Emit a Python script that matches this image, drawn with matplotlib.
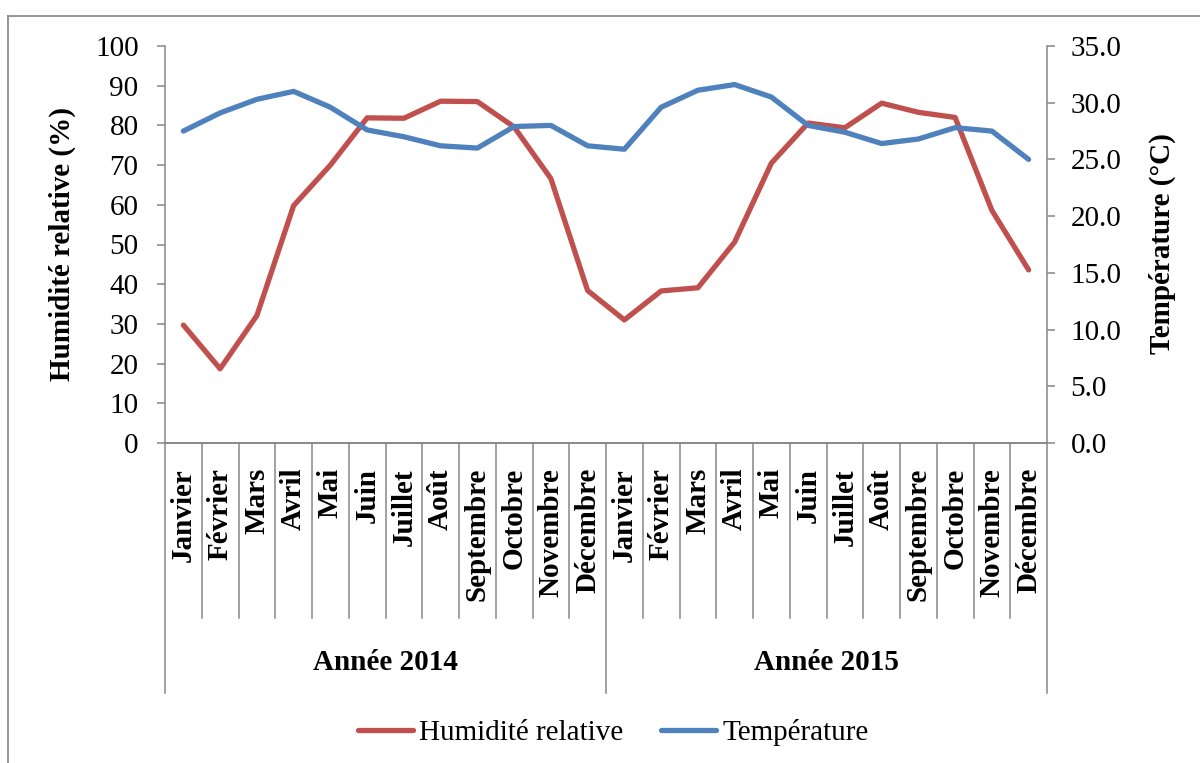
import numpy as np
import matplotlib
matplotlib.use("Agg")
import matplotlib.pyplot as plt
from matplotlib.lines import Line2D
import matplotlib.transforms as mtransforms

plt.rcParams['font.family'] = ['Liberation Serif', 'DejaVu Serif']

months = ["Janvier", "Février", "Mars", "Avril", "Mai", "Juin", "Juillet",
          "Août", "Septembre", "Octobre", "Novembre", "Décembre"]
years = ["Année 2014", "Année 2015"]
humidity = [29.7, 18.7, 32.1, 59.8, 70.0, 81.9, 81.8, 86.1, 86.0, 79.6, 66.6, 38.4,
            31.0, 38.3, 39.1, 50.6, 70.5, 80.6, 79.4, 85.6, 83.3, 82.0, 58.6, 43.6]
temperature = [27.5, 29.1, 30.3, 31.0, 29.6, 27.6, 27.0, 26.2, 26.0, 27.9, 28.0, 26.2,
               25.9, 29.6, 31.1, 31.6, 30.5, 28.0, 27.4, 26.4, 26.8, 27.8, 27.5, 25.0]

RED = "#C0504D"
BLUE = "#4F81BD"
GRAY = "#868686"
FS = 21

W, H = 1200, 763
fig = plt.figure(figsize=(W / 100, H / 100), dpi=100)
L, R, T, B = 165, 1047, 46, 443
ax = fig.add_axes([L / W, 1 - B / H, (R - L) / W, (B - T) / H])
ax2 = ax.twinx()

n = len(humidity)
x = np.arange(n) + 0.5
ax.plot(x, humidity, color=RED, lw=3.8, solid_capstyle='round', solid_joinstyle='round',
        label="Humidité relative", zorder=3)
ax2.plot(x, temperature, color=BLUE, lw=3.8, solid_capstyle='round', solid_joinstyle='round',
         label="Température", zorder=3)

ax.set_xlim(0, n)
ax.set_ylim(0, 100)
ax2.set_ylim(0, 35)
ax.set_yticks(np.arange(0, 101, 10))
ax2.set_yticks(np.arange(0, 35.1, 5))
ax2.set_yticklabels([f"{v:.1f}" for v in np.arange(0, 35.1, 5)])

ax.set_xticks(x)
ax.set_xticklabels(months * 2, rotation=90, fontsize=FS, fontweight='bold', va='top')
ax.tick_params(axis='x', length=0, pad=18)
ax.tick_params(axis='y', length=6, width=1.1, color=GRAY, labelsize=FS, pad=13, direction='out')
ax2.tick_params(axis='y', length=6, width=1.1, color=GRAY, labelsize=FS, pad=11, direction='out')

for a in (ax, ax2):
    a.spines['top'].set_visible(False)
    for s in ('left', 'right', 'bottom'):
        a.spines[s].set_color(GRAY)
        a.spines[s].set_linewidth(1.1)
ax.spines['right'].set_visible(False)
ax2.spines['left'].set_visible(False)

# category separators
trans = mtransforms.blended_transform_factory(ax.transData, ax.transAxes)
month_bottom = (B - 618) / (B - T)
year_bottom = (B - 693) / (B - T)
for i in range(n + 1):
    yb = year_bottom if i % 12 == 0 else month_bottom
    ax.add_line(Line2D([i, i], [0, yb], transform=trans, color=GRAY, lw=1.1, clip_on=False))
for k, yl in enumerate(years):
    ax.text(12 * k + 6, (B - 663) / (B - T), yl, transform=trans, ha='center', va='center',
            fontsize=FS, fontweight='bold')

fig.text(62 / W, 1 - 244 / H, "Humidité relative (%)", rotation=90, ha='center', va='center',
         fontsize=FS, fontweight='bold')
fig.text(1162 / W, 1 - 244 / H, "Température (°C)", rotation=90, ha='center', va='center',
         fontsize=FS, fontweight='bold')

handles = [ax.get_lines()[0], ax2.get_lines()[0]]
fig.legend(handles, [h.get_label() for h in handles], loc='center',
           bbox_to_anchor=(613 / W, 1 - 733 / H), ncol=2, frameon=False, fontsize=FS,
           handlelength=1.9, handletextpad=0.2, columnspacing=1.3)

# outer frame (left and top edges)
fig.add_artist(Line2D([8 / W, 8 / W], [0, 1 - 16 / H], transform=fig.transFigure, color="#8C8C8C", lw=1.3))
fig.add_artist(Line2D([8 / W, 1], [1 - 16 / H, 1 - 16 / H], transform=fig.transFigure, color="#8C8C8C", lw=1.3))

fig.savefig("out.png", dpi=100)
